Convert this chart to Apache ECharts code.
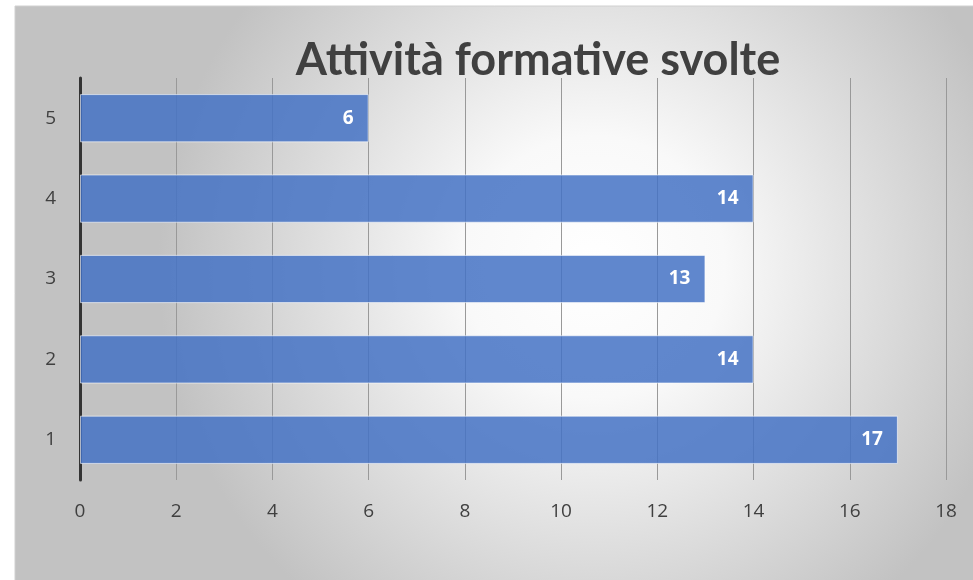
<!DOCTYPE html>
<html><head><meta charset="utf-8">
<script src="https://cdn.jsdelivr.net/npm/echarts@6/dist/echarts.min.js"></script>
<style>html,body{margin:0;padding:0;background:#fff}#c{width:973px;height:580px}</style>
</head><body><div id="c"></div>
<script>
const categories = ['1','2','3','4','5'];
const values = [17,14,13,14,6];
const xTicks = {min:0,max:18,interval:2};
const titleText = 'Attività formative svolte';

const chart = echarts.init(document.getElementById('c'));
chart.setOption({
  backgroundColor:'#ffffff',
  animation:false,
  graphic:[{
    type:'rect', z:-10, silent:true,
    shape:{x:15,y:6,width:965,height:580},
    style:{
      fill:{type:'radial',x:0.6,y:0.45,r:0.75,colorStops:[{offset:0,color:'#ffffff'},{offset:0.3,color:'#f9f9f9'},{offset:1,color:'#c2c2c2'}]},
      stroke:'#d0d0d0',lineWidth:1
    }
  }],
  title:{text:titleText,left:533,top:33,textAlign:'center',
    textStyle:{fontFamily:'Lato',fontWeight:'bold',fontSize:45,color:'#404040'}},
  grid:{left:80,right:27,top:78,bottom:100,containLabel:false},
  xAxis:{type:'value',min:xTicks.min,max:xTicks.max,interval:xTicks.interval,
    axisLine:{show:false},axisTick:{show:false},
    splitLine:{show:true,lineStyle:{color:'#999999',width:1}},
    axisLabel:{color:'#404040',fontSize:19,fontFamily:'Open Sans',margin:22}},
  yAxis:{type:'category',data:categories,
    axisLine:{show:true,lineStyle:{color:'#333333',width:3}},
    axisTick:{show:false},
    axisLabel:{color:'#404040',fontSize:19,fontFamily:'Open Sans',margin:24}},
  series:[{type:'bar',data:values,barCategoryGap:'40%',
    itemStyle:{color:'rgba(68,114,196,0.85)',borderColor:'rgba(255,255,255,0.6)',borderWidth:1},
    label:{show:true,position:'insideRight',distance:15,color:'#ffffff',fontWeight:'bold',fontSize:19,fontFamily:'Open Sans'}}]
});
</script></body></html>
